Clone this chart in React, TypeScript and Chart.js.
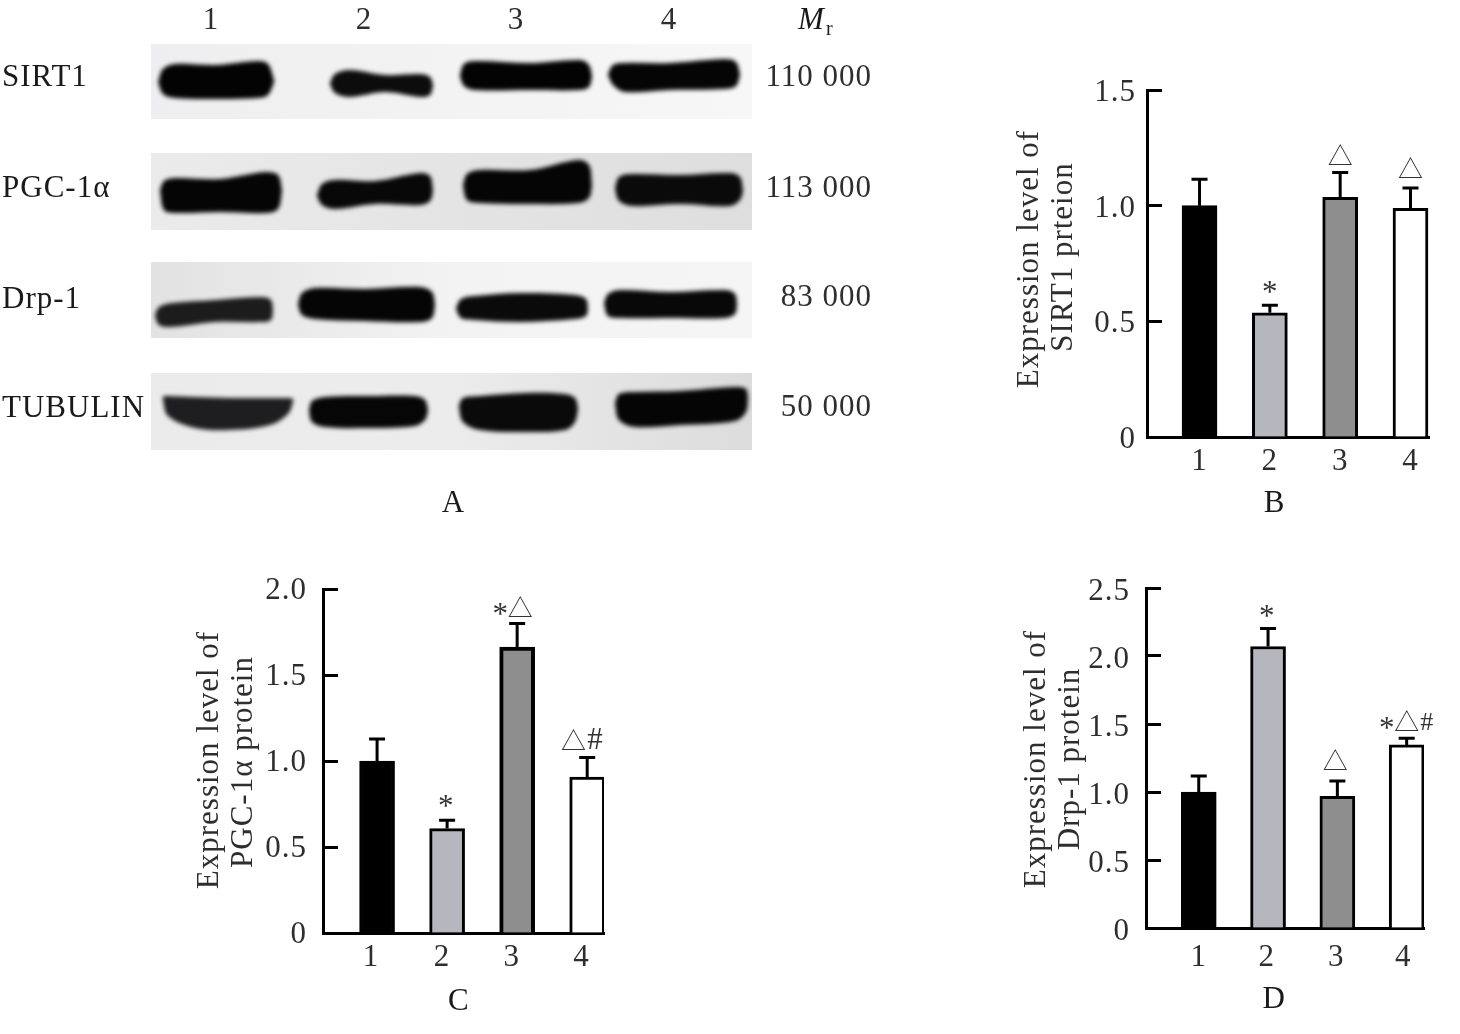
import React, { useEffect, useRef } from "react";
import { Chart, registerables } from "chart.js";

Chart.register(...registerables);

// ---------- Panels B, C, D : values ----------
const categories = [1, 2, 3, 4];

const sirt1Values = [1.0, 0.537, 1.036, 0.988];
const sirt1ErrorTops = [1.114, 0.57, 1.143, 1.076];
const sirt1Ticks = [0, 0.5, 1.0, 1.5];
const sirt1Title = ["Expression level of", "SIRT1 prteion"];
const sirt1MarkText = ["", "*", "△", "△"];
const sirt1MarkX = [1, 2, 3, 4];
const sirt1MarkY = [0, 0.62, 1.18, 1.125];
const sirt1TickX = [1, 2, 3, 4];

const pgcValues = [1.0, 0.607, 1.663, 0.907];
const pgcErrorTops = [1.128, 0.655, 1.8, 1.021];
const pgcTicks = [0, 0.5, 1.0, 1.5, 2.0];
const pgcTitle = ["Expression level of", "PGC-1α protein"];
const pgcMarkText = ["", "*", "*△", "△#"];
const pgcMarkX = [1, 1.98, 2.93, 3.94];
const pgcMarkY = [0, 0.727, 1.841, 1.072];
const pgcTickX = [0.914, 1.927, 2.924, 3.92];

const drpValues = [1.0, 2.07, 0.968, 1.346];
const drpErrorTops = [1.118, 2.203, 1.081, 1.395];
const drpTicks = [0, 0.5, 1.0, 1.5, 2.0, 2.5];
const drpTitle = ["Expression level of", "Drp-1 protein"];
const drpMarkText = ["", "*", "△", "*△#"];
const drpMarkX = [1, 1.98, 2.97, 4];
const drpMarkY = [0, 2.277, 1.172, 1.453];
const drpTickX = [1, 1.98, 2.985, 3.95];

const barFills = ["#000000", "#b6b6be", "#8e8e8e", "#ffffff"];

// ---------- Panel A : blot ----------
const laneLabels = ["1", "2", "3", "4"];
const lanePositions = [211, 364, 516, 669];
const proteinLabels = ["SIRT1", "PGC-1α", "Drp-1", "TUBULIN"];
const proteinPositions = [76, 187, 298, 407];
const massLabels = ["110 000", "113 000", "83 000", "50 000"];
const massPositions = [76, 187, 296, 406];

const stripLeft = 151;
const stripRight = 752;
const stripTops = [44, 153, 262, 373];
const stripBottoms = [119, 230, 338, 450];
const stripShades = [
  ["#eeeef0", "#f3f3f3", "#f7f7f7"],
  ["#ebebeb", "#e4e4e4", "#dedede"],
  ["#e2e2e2", "#f3f3f3", "#f5f5f5"],
  ["#ebebeb", "#ececec", "#dcdcdc"],
];

const sirt1Lane1 = { x: [158, 163, 175, 215, 258, 268, 274], top: [82, 69, 64, 65, 61, 64, 80], bottom: [82, 94, 98, 99, 98, 95, 82] };
const sirt1Lane2 = { x: [330, 335, 350, 385, 420, 430, 433], top: [83, 74, 70, 75, 74, 77, 85], bottom: [84, 93, 97, 92, 97, 95, 86] };
const sirt1Lane3 = { x: [460, 464, 475, 530, 580, 589, 592], top: [75, 64, 61, 63, 60, 65, 76], bottom: [76, 86, 90, 90, 90, 87, 77] };
const sirt1Lane4 = { x: [608, 613, 625, 670, 725, 736, 740], top: [74, 65, 63, 63, 59, 62, 74], bottom: [75, 85, 92, 90, 89, 86, 75] };

const pgcLane1 = { x: [160, 164, 175, 220, 265, 278, 282], top: [190, 181, 178, 179, 172, 175, 190], bottom: [191, 210, 213, 212, 213, 209, 191] };
const pgcLane2 = { x: [317, 322, 335, 375, 420, 430, 433], top: [195, 184, 180, 181, 173, 176, 190], bottom: [196, 205, 209, 204, 205, 201, 191] };
const pgcLane3 = { x: [463, 467, 480, 530, 578, 589, 592], top: [185, 174, 170, 170, 160, 165, 185], bottom: [186, 200, 203, 204, 203, 198, 186] };
const pgcLane4 = { x: [615, 619, 632, 680, 730, 740, 743], top: [188, 177, 174, 175, 173, 177, 190], bottom: [189, 201, 206, 204, 206, 200, 191] };

const drpLane1 = { x: [155, 159, 172, 215, 262, 271, 273], top: [315, 307, 303, 300, 297, 300, 310], bottom: [316, 325, 327, 322, 322, 320, 311] };
const drpLane2 = { x: [298, 302, 315, 365, 420, 432, 435], top: [304, 293, 288, 289, 287, 292, 304], bottom: [305, 315, 319, 321, 322, 318, 305] };
const drpLane3 = { x: [456, 461, 475, 520, 575, 586, 588], top: [308, 299, 296, 293, 295, 299, 308], bottom: [309, 318, 320, 322, 319, 316, 309] };
const drpLane4 = { x: [604, 608, 620, 670, 725, 735, 737], top: [303, 294, 290, 292, 290, 294, 304], bottom: [304, 316, 318, 318, 318, 314, 305] };

const tubLane1 = { x: [163, 168, 195, 230, 270, 288, 293], top: [396, 396, 397, 398, 398, 398, 399], bottom: [400, 416, 428, 430, 425, 414, 402] };
const tubLane2 = { x: [309, 312, 325, 370, 415, 425, 428], top: [410, 401, 397, 396, 396, 400, 410], bottom: [411, 422, 427, 428, 426, 420, 411] };
const tubLane3 = { x: [459, 463, 480, 525, 565, 575, 578], top: [405, 398, 396, 393, 394, 398, 408], bottom: [408, 422, 430, 432, 430, 422, 409] };
const tubLane4 = { x: [615, 619, 635, 680, 735, 746, 748], top: [403, 394, 392, 391, 387, 389, 398], bottom: [404, 420, 427, 425, 421, 412, 399] };

const bands = [
  sirt1Lane1, sirt1Lane2, sirt1Lane3, sirt1Lane4,
  pgcLane1, pgcLane2, pgcLane3, pgcLane4,
  drpLane1, drpLane2, drpLane3, drpLane4,
  tubLane1, tubLane2, tubLane3, tubLane4,
];
const bandShades = [
  "#030303", "#0c0c0c", "#030303", "#050505",
  "#050505", "#080808", "#050505", "#0a0a0a",
  "#1c1c1c", "#050505", "#0a0a0a", "#080808",
  "#1e1e20", "#060606", "#0a0a0a", "#050505",
];

const SERIF = '"Liberation Serif", serif';
const TEXT_COLOR = "#2e2e2e";

function outline(band: { x: number[]; top: number[]; bottom: number[] }) {
  const pts = band.x.map((x, i) => ({ x, y: band.top[i] }));
  for (let i = band.x.length - 1; i >= 0; i--) pts.push({ x: band.x[i], y: band.bottom[i] });
  pts.push({ x: band.x[0], y: band.top[0] });
  return pts;
}

function useChart(make: (c: HTMLCanvasElement) => Chart) {
  const ref = useRef<HTMLCanvasElement | null>(null);
  useEffect(() => {
    const chart = make(ref.current as HTMLCanvasElement);
    return () => chart.destroy();
  }, []);
  return ref;
}

function clearPads(s: any) {
  s.paddingTop = 0;
  s.paddingBottom = 0;
  s.paddingLeft = 0;
  s.paddingRight = 0;
}

function panelLabelDraw(ctx: CanvasRenderingContext2D, text: string, x: number, y: number) {
  ctx.save();
  ctx.font = `31px ${SERIF}`;
  ctx.fillStyle = "#1a1a1a";
  ctx.textAlign = "center";
  ctx.textBaseline = "alphabetic";
  (ctx as any).letterSpacing = "0px";
  ctx.fillText(text, x, y);
  ctx.restore();
}

function BlotPanel() {
  const ref = useChart((canvas) => {
    const ctx = canvas.getContext("2d") as CanvasRenderingContext2D;
    const stripSets = stripTops.map((top, i) => {
      const g = ctx.createLinearGradient(stripLeft, 0, stripRight, 0);
      g.addColorStop(0, stripShades[i][0]);
      g.addColorStop(0.5, stripShades[i][1]);
      g.addColorStop(1, stripShades[i][2]);
      const bottom = stripBottoms[i];
      return {
        data: [
          { x: stripLeft, y: top },
          { x: stripRight, y: top },
          { x: stripRight, y: bottom },
          { x: stripLeft, y: bottom },
          { x: stripLeft, y: top },
        ],
        backgroundColor: g,
        borderColor: "transparent",
        borderWidth: 0,
        pointRadius: 0,
        fill: "shape",
        tension: 0,
        order: 2,
      };
    });
    const bandSets = bands.map((b, i) => ({
      data: outline(b),
      backgroundColor: bandShades[i],
      borderColor: "transparent",
      borderWidth: 0,
      pointRadius: 0,
      fill: "shape",
      tension: 0.35,
      order: 1,
    }));
    const hiddenAxis = { grid: { display: false, drawTicks: false }, border: { display: false } };
    return new Chart(canvas, {
      type: "line",
      data: { datasets: [...bandSets, ...stripSets] as any },
      options: {
        animation: false,
        responsive: false,
        devicePixelRatio: 1,
        events: [],
        layout: { autoPadding: false, padding: 0 },
        plugins: { legend: { display: false }, tooltip: { enabled: false } },
        scales: {
          x: {
            ...hiddenAxis,
            type: "linear",
            position: "top",
            min: 0,
            max: 880,
            afterFit: (s: any) => { s.height = 40; clearPads(s); },
            afterBuildTicks: (s: any) => { s.ticks = lanePositions.map((value) => ({ value })); },
            ticks: {
              autoSkip: false,
              maxRotation: 0,
              padding: 1,
              color: TEXT_COLOR,
              font: { family: SERIF, size: 31 },
              callback: (_v: any, i: number) => laneLabels[i],
            },
          },
          y: {
            ...hiddenAxis,
            type: "linear",
            position: "left",
            reverse: true,
            min: 40,
            max: 520,
            afterFit: (s: any) => { s.width = 0; clearPads(s); },
            afterBuildTicks: (s: any) => { s.ticks = proteinPositions.map((value) => ({ value })); },
            ticks: {
              autoSkip: false,
              mirror: true,
              padding: 2,
              labelOffset: 2,
              color: "#1a1a1a",
              font: { family: SERIF, size: 31 },
              callback: (_v: any, i: number) => proteinLabels[i],
            },
          },
          yMass: {
            ...hiddenAxis,
            type: "linear",
            position: "right",
            reverse: true,
            min: 40,
            max: 520,
            afterFit: (s: any) => { s.width = 0; clearPads(s); },
            afterBuildTicks: (s: any) => { s.ticks = massPositions.map((value) => ({ value })); },
            ticks: {
              autoSkip: false,
              mirror: true,
              padding: -8,
              labelOffset: 2,
              color: TEXT_COLOR,
              font: { family: SERIF, size: 31 },
              callback: (_v: any, i: number) => massLabels[i],
            },
          },
        },
      } as any,
      plugins: [
        {
          id: "blotStyle",
          beforeDraw(chart: any) {
            chart.ctx.letterSpacing = "1px";
          },
          beforeDatasetsDraw(chart: any) {
            chart.ctx.save();
            chart.ctx.filter = "blur(0.7px)";
          },
          afterDatasetDraw(chart: any, args: any) {
            if (args.index === bands.length) chart.ctx.filter = "blur(2px)";
          },
          afterDatasetsDraw(chart: any) {
            chart.ctx.restore();
          },
          afterDraw(chart: any) {
            const c = chart.ctx as CanvasRenderingContext2D;
            const sx = chart.scales.x;
            const sy = chart.scales.y;
            c.save();
            (c as any).letterSpacing = "0px";
            c.fillStyle = "#1a1a1a";
            c.textBaseline = "alphabetic";
            c.textAlign = "left";
            c.font = `italic 31px ${SERIF}`;
            c.fillText("M", sx.getPixelForValue(798), 29);
            c.font = `20px ${SERIF}`;
            c.fillText("r", sx.getPixelForValue(826), 35);
            c.restore();
            panelLabelDraw(c, "A", sx.getPixelForValue(453), sy.getPixelForValue(512));
          },
        },
      ],
    });
  });
  return <canvas ref={ref} width={880} height={520} style={{ position: "absolute", left: 0, top: 0 }} />;
}

interface BarProps {
  left: number; top: number; width: number; height: number;
  plotLeft: number; plotRight: number; plotTop: number; plotBottom: number;
  xMin: number; xMax: number; yMax: number;
  values: number[]; errorTops: number[]; yTicks: number[]; title: string[];
  markText: string[]; markX: number[]; markY: number[]; tickX: number[];
  borders: number[]; barWidth: number; labelGap: number; labelOffset: number; xTickGap: number;
  titleX: number[]; titleY: number[]; panel: string; panelX: number; panelDrop: number; hashSize: number;
}

function drawMark(c: CanvasRenderingContext2D, text: string, cx: number, y: number, hashSize: number) {
  const adv: Record<string, number> = { "*": 13, "△": 21, "#": hashSize === 31 ? 16 : 13 };
  const chars = Array.from(text);
  const gap = 3;
  const total = chars.reduce((s, ch) => s + adv[ch], 0) + gap * (chars.length - 1);
  let x = cx - total / 2;
  c.save();
  (c as any).letterSpacing = "0px";
  c.textAlign = "center";
  c.textBaseline = "alphabetic";
  c.fillStyle = "#333";
  chars.forEach((ch) => {
    const mid = x + adv[ch] / 2;
    if (ch === "*") {
      c.font = `31px ${SERIF}`;
      c.fillText(ch, mid, y + 8);
    } else if (ch === "△") {
      c.font = `25px "Noto Sans CJK SC"`;
      c.fillText(ch, mid, y + 1);
    } else {
      c.font = `${hashSize}px ${SERIF}`;
      c.fillText(ch, mid, y);
    }
    x += adv[ch] + gap;
  });
  c.restore();
}

function BarPanel(p: BarProps) {
  const ref = useChart((canvas) => {
    const yAxisWidth = p.plotLeft - p.left;
    const xAxisHeight = 48;
    return new Chart(canvas, {
      type: "bar",
      data: {
        labels: categories as any,
        datasets: [
          {
            data: p.values,
            backgroundColor: barFills,
            borderColor: "#000",
            borderWidth: p.borders,
            borderSkipped: "bottom",
            barThickness: p.barWidth,
          },
        ],
      },
      options: {
        animation: false,
        responsive: false,
        devicePixelRatio: 1,
        events: [],
        layout: {
          autoPadding: false,
          padding: {
            left: 0,
            top: p.plotTop - p.top,
            right: p.left + p.width - p.plotRight,
            bottom: p.top + p.height - p.plotBottom - xAxisHeight,
          },
        },
        plugins: { legend: { display: false }, tooltip: { enabled: false } },
        scales: {
          x: {
            type: "linear",
            offset: false,
            min: p.xMin,
            max: p.xMax,
            grid: { display: false, offset: false, drawTicks: false },
            border: { display: true, color: "#000", width: 3 },
            afterFit: (s: any) => { s.height = xAxisHeight; clearPads(s); },
            afterBuildTicks: (s: any) => { s.ticks = p.tickX.map((value) => ({ value })); },
            ticks: {
              autoSkip: false,
              maxRotation: 0,
              padding: p.xTickGap,
              color: TEXT_COLOR,
              font: { family: SERIF, size: 31 },
              callback: (_v: any, i: number) => String(categories[i]),
            },
          },
          y: {
            type: "linear",
            min: 0,
            max: p.yMax,
            grid: {
              display: true,
              drawOnChartArea: false,
              drawTicks: true,
              tickLength: -15,
              tickWidth: 3,
              tickColor: "#000",
            },
            border: { display: true, color: "#000", width: 3 },
            afterFit: (s: any) => { s.width = yAxisWidth; clearPads(s); },
            afterBuildTicks: (s: any) => { s.ticks = p.yTicks.map((value) => ({ value })); },
            ticks: {
              autoSkip: false,
              padding: 15 + p.labelGap,
              labelOffset: p.labelOffset,
              color: TEXT_COLOR,
              font: { family: SERIF, size: 31 },
              callback: (v: any) => (v === 0 ? "0" : Number(v).toFixed(1)),
            },
          },
        },
      } as any,
      plugins: [
        {
          id: "panelStyle",
          beforeDraw(chart: any) {
            chart.ctx.letterSpacing = "1px";
          },
          afterDatasetsDraw(chart: any) {
            const c = chart.ctx as CanvasRenderingContext2D;
            const sx = chart.scales.x;
            const sy = chart.scales.y;
            c.save();
            c.strokeStyle = "#000";
            c.lineWidth = 3;
            categories.forEach((cat, i) => {
              const x = sx.getPixelForValue(cat);
              const y0 = sy.getPixelForValue(p.values[i]);
              const y1 = sy.getPixelForValue(p.errorTops[i]);
              c.beginPath();
              c.moveTo(x, y0);
              c.lineTo(x, y1);
              c.moveTo(x - 8, y1);
              c.lineTo(x + 8, y1);
              c.stroke();
            });
            c.restore();
          },
          afterDraw(chart: any) {
            const c = chart.ctx as CanvasRenderingContext2D;
            const sx = chart.scales.x;
            const sy = chart.scales.y;
            p.title.forEach((line, i) => {
              c.save();
              (c as any).letterSpacing = "1px";
              c.translate(p.titleX[i] - p.left, p.titleY[i] - p.top);
              c.rotate(-Math.PI / 2);
              c.textAlign = "center";
              c.textBaseline = "middle";
              c.fillStyle = TEXT_COLOR;
              c.font = `31px ${SERIF}`;
              c.fillText(line, 0, 0);
              c.restore();
            });
            p.markText.forEach((t, i) => {
              if (t) drawMark(c, t, sx.getPixelForValue(p.markX[i]), sy.getPixelForValue(p.markY[i]), p.hashSize);
            });
            panelLabelDraw(c, p.panel, sx.getPixelForValue(p.panelX), chart.chartArea.bottom + p.panelDrop);
          },
        },
      ],
    });
  });
  return <canvas ref={ref} width={p.width} height={p.height} style={{ position: "absolute", left: p.left, top: p.top }} />;
}

export default function App() {
  return (
    <div style={{ position: "absolute", left: 0, top: 0, width: 1460, height: 1034, overflow: "hidden", background: "#fff" }}>
      <BlotPanel />
      <BarPanel
        left={1000} top={70} width={450} height={460}
        plotLeft={1147} plotRight={1429} plotTop={90} plotBottom={437}
        xMin={0.253} xMax={4.263} yMax={1.5}
        values={sirt1Values} errorTops={sirt1ErrorTops} yTicks={sirt1Ticks} title={sirt1Title}
        markText={sirt1MarkText} markX={sirt1MarkX} markY={sirt1MarkY} tickX={sirt1TickX}
        borders={[3, 3, 3, 3]} barWidth={35} labelGap={11} labelOffset={3} xTickGap={6}
        titleX={[1030, 1064]} titleY={[259, 257]}
        panel="B" panelX={2.06} panelDrop={75} hashSize={31}
      />
      <BarPanel
        left={180} top={570} width={440} height={450}
        plotLeft={323} plotRight={604} plotTop={589} plotBottom={933}
        xMin={0.228} xMax={4.24} yMax={2.0}
        values={pgcValues} errorTops={pgcErrorTops} yTicks={pgcTicks} title={pgcTitle}
        markText={pgcMarkText} markX={pgcMarkX} markY={pgcMarkY} tickX={pgcTickX}
        borders={[3, 3, 4, 3]} barWidth={35} labelGap={16} labelOffset={2} xTickGap={6}
        titleX={[210, 244]} titleY={[760, 762]}
        panel="C" panelX={2.16} panelDrop={77} hashSize={31}
      />
      <BarPanel
        left={1000} top={570} width={450} height={450}
        plotLeft={1146} plotRight={1424} plotTop={588} plotBottom={928}
        xMin={0.239} xMax={4.25} yMax={2.5}
        values={drpValues} errorTops={drpErrorTops} yTicks={drpTicks} title={drpTitle}
        markText={drpMarkText} markX={drpMarkX} markY={drpMarkY} tickX={drpTickX}
        borders={[3, 3, 3, 3]} barWidth={35} labelGap={16} labelOffset={4} xTickGap={11}
        titleX={[1037, 1071]} titleY={[759, 759]}
        panel="D" panelX={2.08} panelDrop={80} hashSize={26}
      />
    </div>
  );
}
